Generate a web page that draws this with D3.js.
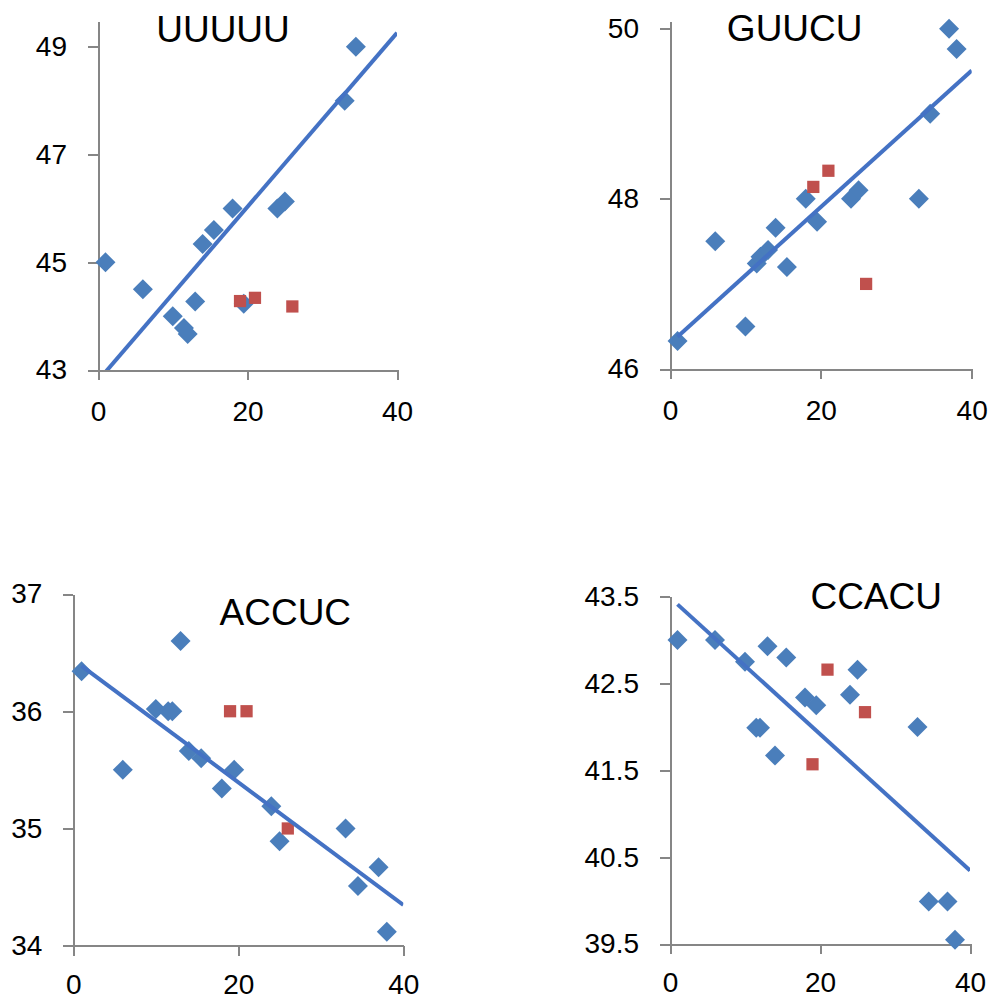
<!DOCTYPE html>
<html>
<head>
<meta charset="utf-8">
<script src="https://cdn.jsdelivr.net/npm/d3@7"></script>
<style>
  html, body { margin: 0; padding: 0; background: #fff; }
  svg { display: block; }
  .axis path, .axis line { stroke: #868686; stroke-width: 2; shape-rendering: crispEdges; }
  .axis text { font-family: "Liberation Sans", Arial, sans-serif; font-size: 28px; fill: #000; }
  .title { font-family: "Liberation Sans", Arial, sans-serif; font-size: 37px; fill: #000; }
</style>
</head>
<body>
<svg id="chart" width="991" height="1000"></svg>
<script>
// Motif names, one scatter panel each
const motifs = ["UUUUU", "GUUCU", "ACCUC", "CCACU"];

// Shared x values of the main (diamond) series
const xMain = [1, 6, 10, 11.5, 12, 13, 14, 15.5, 18, 19.5, 24, 25, 33, 34.5, 37, 38];
// y values of the main series per motif (null = no value)
const yUUUUU = [45, 44.5, 44, 43.78, 43.67, 44.27, 45.34, 45.6, 46, 44.23, 46, 46.13, 48, 49, null, null];
const yGUUCU = [46.33, 47.5, 46.5, 47.24, 47.32, 47.4, 47.66, 47.2, 48, 47.73, 48, 48.1, 48, 49, 50, 49.76];
const yACCUC = [36.34, 35.5, 36.02, 36, 36, 36.6, 35.66, 35.6, 35.34, 35.5, 35.19, 34.89, 35, 34.51, 34.67, 34.12];
const yCCACU = [43, 43, 42.75, 41.99, 41.99, 42.93, 41.67, 42.8, 42.34, 42.25, 42.37, 42.66, 42, 39.99, 39.99, 39.55];

// Second (square) series
const xExtra = [19, 21, 26];
const extraUUUUU = [44.28, 44.34, 44.18];
const extraGUUCU = [48.14, 48.33, 47.0];
const extraACCUC = [36.0, 36.0, 35.0];
const extraCCACU = [41.57, 42.66, 42.17];

// Linear trend lines: y = slope * x + intercept, drawn over trendX
const trendSlope = [0.1615, 0.0802, -0.0523, -0.0786];
const trendIntercept = [42.80, 46.30, 36.44, 43.49];
const trendX = [1, 40];

// Axis values
const xDomain = [0, 40];
const xTicks = [0, 20, 40];
const yDomains = [[43, 49.48], [46, 50.09], [34, 37], [39.5, 43.5]];
const yTicks = [[43, 45, 47, 49], [46, 48, 50], [34, 35, 36, 37], [39.5, 40.5, 41.5, 42.5, 43.5]];

const mainSeries = [yUUUUU, yGUUCU, yACCUC, yCCACU];
const extraSeries = [extraUUUUU, extraGUUCU, extraACCUC, extraCCACU];

// Panel geometry (pixel boxes of each plot area, x-label padding and title anchor)
const layout = [
  { left: 98,   right: 397,   top: 21,    bottom: 370,   xPad: 21, tx: 223,   ty: 42 },
  { left: 670,  right: 971.7, top: 21,    bottom: 369,   xPad: 21, tx: 794.7, ty: 40.5 },
  { left: 73.3, right: 403.3, top: 594,   bottom: 945.7, xPad: 18, tx: 285.3, ty: 625 },
  { left: 670,  right: 970,   top: 596.7, bottom: 944,   xPad: 18, tx: 876.2, ty: 609.3 }
];

const colorMain = "#4a7ebb";
const colorExtra = "#c0504d";
const colorTrend = "#4472c4";

const svg = d3.select("#chart");
const diamond = d3.symbol().type(d3.symbolSquare).size(200);
const square = d3.symbol().type(d3.symbolSquare).size(150);

motifs.forEach((name, i) => {
  const L = layout[i];
  const x = d3.scaleLinear().domain(xDomain).range([L.left, L.right]);
  const y = d3.scaleLinear().domain(yDomains[i]).range([L.bottom, L.top]);
  const g = svg.append("g");

  // axes
  g.append("g")
    .attr("class", "axis")
    .attr("transform", `translate(0,${L.bottom})`)
    .call(d3.axisBottom(x).tickValues(xTicks).tickSize(10).tickSizeOuter(0).tickPadding(L.xPad).tickFormat(d => String(d)));
  g.append("g")
    .attr("class", "axis")
    .attr("transform", `translate(${L.left},0)`)
    .call(d3.axisLeft(y).tickValues(yTicks[i]).tickSize(10).tickSizeOuter(0).tickPadding(21).tickFormat(d => String(d)));
  g.selectAll(".axis .domain").attr("fill", "none");

  // main series (diamonds)
  const pts = xMain.map((xv, k) => ({ x: xv, y: mainSeries[i][k] })).filter(d => d.y != null);
  g.append("g").selectAll("path")
    .data(pts)
    .join("path")
    .attr("d", diamond)
    .attr("transform", d => `translate(${x(d.x)},${y(d.y)}) rotate(45)`)
    .attr("fill", colorMain);

  // second series (squares)
  const ex = xExtra.map((xv, k) => ({ x: xv, y: extraSeries[i][k] }));
  g.append("g").selectAll("path")
    .data(ex)
    .join("path")
    .attr("d", square)
    .attr("transform", d => `translate(${x(d.x)},${y(d.y)})`)
    .attr("fill", colorExtra);

  // trend line, clipped to the plot area
  const clipId = "clip" + i;
  svg.append("defs").append("clipPath").attr("id", clipId)
    .append("rect")
    .attr("x", L.left).attr("y", L.top)
    .attr("width", L.right - L.left).attr("height", L.bottom - L.top);
  const line = d3.line().x(d => x(d)).y(d => y(trendSlope[i] * d + trendIntercept[i]));
  g.append("path")
    .attr("clip-path", `url(#${clipId})`)
    .attr("d", line(trendX))
    .attr("fill", "none")
    .attr("stroke", colorTrend)
    .attr("stroke-width", 4);

  // title
  g.append("text")
    .attr("class", "title")
    .attr("x", L.tx)
    .attr("y", L.ty)
    .attr("text-anchor", "middle")
    .text(name);
});
</script>
</body>
</html>
